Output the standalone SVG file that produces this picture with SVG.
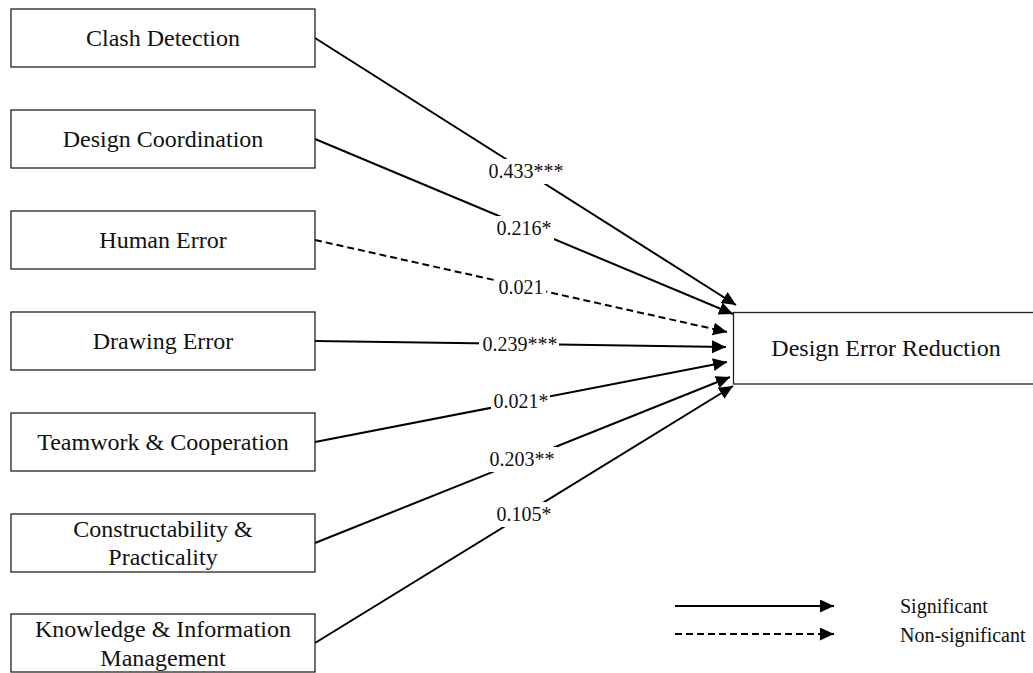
<svg xmlns="http://www.w3.org/2000/svg" width="1033" height="673" viewBox="0 0 1033 673">
<style>
.box{fill:#fff;stroke:#222;stroke-width:1.3}
.nt{font-family:"Liberation Serif","Times New Roman",serif;font-size:24px;fill:#111;text-anchor:middle}
.lt{font-family:"Liberation Serif","Times New Roman",serif;font-size:20px;fill:#111;text-anchor:middle}
.gt{font-family:"Liberation Serif","Times New Roman",serif;font-size:20px;fill:#111}
.ln{stroke:#000;stroke-width:2;fill:none;marker-end:url(#ah)}
.ds{stroke-dasharray:7 4}
.bg{fill:#fff}
</style>
<defs>
<marker id="ah" markerUnits="userSpaceOnUse" markerWidth="15" markerHeight="14" refX="14" refY="6.5" orient="auto">
<path d="M0,0 L14,6.5 L0,13 z" fill="#000"/>
</marker>
</defs>
<rect width="1033" height="673" fill="#fff"/>
<g id="connectors">
<line class="ln" x1="315" y1="38" x2="736" y2="305"/>
<line class="ln" x1="315" y1="139" x2="733" y2="314"/>
<line class="ln ds" x1="315" y1="240" x2="727" y2="332"/>
<line class="ln" x1="315" y1="341" x2="726" y2="347"/>
<line class="ln" x1="315" y1="442" x2="727" y2="362"/>
<line class="ln" x1="315" y1="543" x2="730" y2="377"/>
<line class="ln" x1="315" y1="643" x2="733" y2="386"/>
<g id="labels">
<rect class="bg" x="486" y="159" width="80" height="25"/>
<text class="lt" x="526" y="178">0.433***</text>
<rect class="bg" x="495" y="216" width="59" height="25"/>
<text class="lt" x="524" y="235">0.216*</text>
<rect class="bg" x="496" y="275" width="50" height="25"/>
<text class="lt" x="521" y="294">0.021</text>
<rect class="bg" x="479" y="332" width="80" height="25"/>
<text class="lt" x="520" y="351">0.239***</text>
<rect class="bg" x="491" y="389" width="59" height="25"/>
<text class="lt" x="521" y="408">0.021*</text>
<rect class="bg" x="488" y="447" width="69" height="25"/>
<text class="lt" x="522" y="466">0.203**</text>
<rect class="bg" x="495" y="502" width="59" height="25"/>
<text class="lt" x="524" y="521">0.105*</text>
</g>
</g>
<g id="clash"><rect class="box" x="11" y="9" width="304" height="58"/><text class="nt" x="163" y="46">Clash Detection</text></g>
<g id="coord"><rect class="box" x="11" y="110" width="304" height="58"/><text class="nt" x="163" y="147">Design Coordination</text></g>
<g id="human"><rect class="box" x="11" y="211" width="304" height="58"/><text class="nt" x="163" y="248">Human Error</text></g>
<g id="drawing"><rect class="box" x="11" y="312" width="304" height="58"/><text class="nt" x="163" y="349">Drawing Error</text></g>
<g id="teamwork"><rect class="box" x="11" y="413" width="304" height="58"/><text class="nt" x="163" y="450">Teamwork &amp; Cooperation</text></g>
<g id="construct"><rect class="box" x="11" y="514" width="304" height="58"/><text class="nt" x="163" y="537">Constructability &amp;</text><text class="nt" x="163" y="565">Practicality</text></g>
<g id="knowledge"><rect class="box" x="11" y="614" width="304" height="58"/><text class="nt" x="163" y="637">Knowledge &amp; Information</text><text class="nt" x="163" y="666">Management</text></g>
<g id="target"><rect class="box" x="733.5" y="312.5" width="320" height="71.5"/><text class="nt" x="886" y="356">Design Error Reduction</text></g>
<g id="legend">
<line class="ln" x1="675" y1="606" x2="834" y2="606"/>
<line class="ln ds" x1="675" y1="634" x2="834" y2="634"/>
<text class="gt" x="900" y="613">Significant</text>
<text class="gt" x="900" y="642">Non-significant</text>
</g>
</svg>
